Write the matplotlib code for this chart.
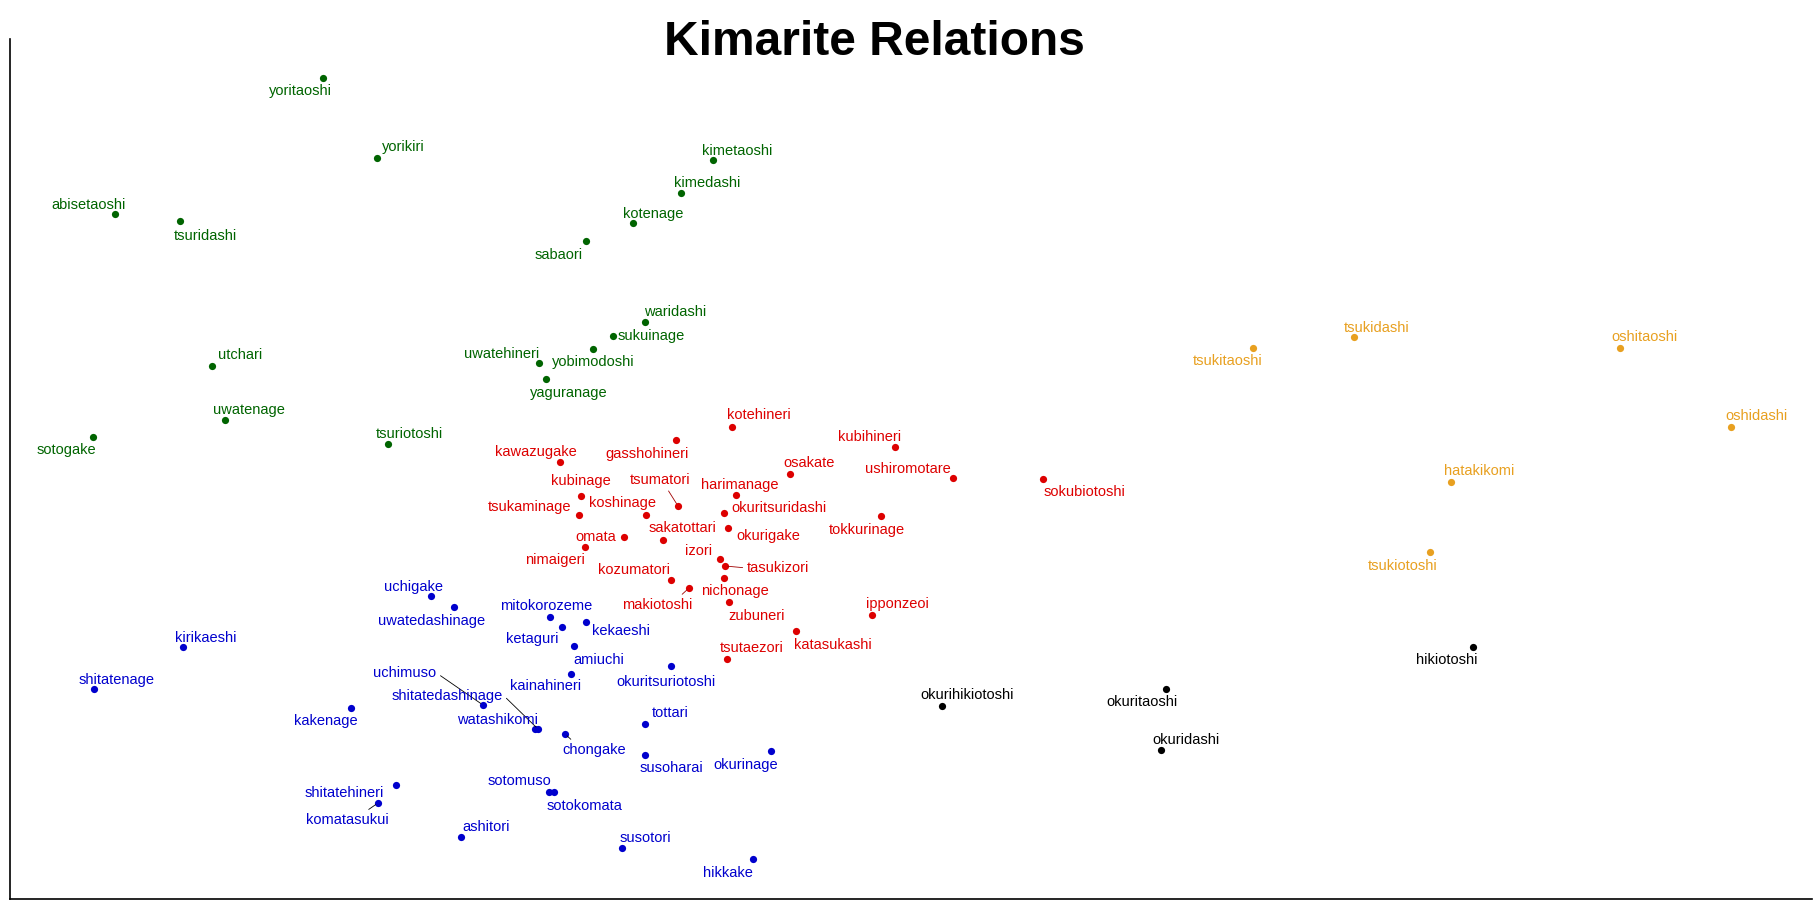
import matplotlib
matplotlib.use("Agg")
import matplotlib.pyplot as plt

plt.rcParams['font.family'] = ['Liberation Sans', 'DejaVu Sans']

# ---- data: MDS coordinates of kimarite, by cluster ----
green_names = ["yoritaoshi", "yorikiri", "abisetaoshi", "tsuridashi", "sabaori", "kimetaoshi",
               "kimedashi", "kotenage", "waridashi", "sukuinage", "yobimodoshi", "uwatehineri",
               "yaguranage", "utchari", "uwatenage", "sotogake", "tsuriotoshi"]
green_d1 = [-5.77, -5.23, -7.85, -7.20, -3.14, -1.87, -2.19, -2.67, -2.55, -2.87, -3.07, -3.61,
            -3.54, -6.88, -6.75, -8.07, -5.12]
green_d2 = [4.22, 3.42, 2.86, 2.79, 2.59, 3.40, 3.07, 2.77, 1.78, 1.64, 1.51, 1.37,
            1.21, 1.34, 0.80, 0.63, 0.56]

red_names = ["kotehineri", "gasshohineri", "kawazugake", "kubinage", "tsumatori", "koshinage",
             "tsukaminage", "harimanage", "osakate", "kubihineri", "ushiromotare", "okuritsuridashi",
             "okurigake", "tokkurinage", "sakatottari", "omata", "nimaigeri", "izori", "tasukizori",
             "kozumatori", "nichonage", "zubuneri", "makiotoshi", "ipponzeoi", "katasukashi",
             "tsutaezori", "sokubiotoshi"]
red_d1 = [-1.68, -2.24, -3.40, -3.19, -2.22, -2.54, -3.21, -1.64, -1.10, -0.05, 0.53, -1.76,
          -1.72, -0.19, -2.37, -2.76, -3.15, -1.80, -1.75, -2.29, -1.76, -1.71, -2.11, -0.28,
          -1.04, -1.73, 1.43]
red_d2 = [0.73, 0.60, 0.38, 0.04, -0.06, -0.15, -0.15, 0.05, 0.26, 0.53, 0.22, -0.13,
          -0.28, -0.16, -0.40, -0.37, -0.47, -0.59, -0.66, -0.80, -0.78, -1.02, -0.88, -1.15,
          -1.31, -1.59, 0.21]

blue_names = ["uchigake", "uwatedashinage", "mitokorozeme", "ketaguri", "kekaeshi", "amiuchi",
              "kainahineri", "okuritsuriotoshi", "kirikaeshi", "shitatenage", "kakenage", "uchimuso",
              "shitatedashinage", "watashikomi", "chongake", "tottari", "susoharai", "okurinage",
              "sotomuso", "sotokomata", "ashitori", "susotori", "hikkake", "shitatehineri",
              "komatasukui"]
blue_d1 = [-4.69, -4.46, -3.50, -3.38, -3.14, -3.26, -3.29, -2.29, -7.17, -8.06, -5.49, -4.17,
           -3.62, -3.65, -3.35, -2.55, -2.55, -1.29, -3.51, -3.46, -4.39, -2.78, -1.47, -5.04,
           -5.22]
blue_d2 = [-0.96, -1.07, -1.17, -1.27, -1.22, -1.46, -1.74, -1.66, -1.47, -1.89, -2.08, -2.05,
           -2.29, -2.29, -2.34, -2.24, -2.55, -2.51, -2.92, -2.92, -3.37, -3.48, -3.59, -2.85,
           -3.03]

orange_names = ["tsukitaoshi", "tsukidashi", "oshitaoshi", "oshidashi", "hatakikomi", "tsukiotoshi"]
orange_d1 = [3.53, 4.54, 7.20, 8.31, 5.51, 5.30]
orange_d2 = [1.52, 1.63, 1.52, 0.73, 0.18, -0.52]

black_names = ["hikiotoshi", "okurihikiotoshi", "okuritaoshi", "okuridashi"]
black_d1 = [5.73, 0.42, 2.66, 2.61]
black_d2 = [-1.47, -2.06, -1.89, -2.50]

# ---- layout: label offsets (pixels) and leader lines ----
label_offset = {
    "yoritaoshi": (-23, -13), "yorikiri": (26, 11), "abisetaoshi": (-26, 9), "tsuridashi": (25, -15),
    "sabaori": (-27, -14), "kimetaoshi": (24, 9), "kimedashi": (26, 10), "kotenage": (20, 9),
    "waridashi": (30, 10), "sukuinage": (38, 0), "yobimodoshi": (0, -13), "uwatehineri": (-37, 9),
    "yaguranage": (23, -14), "utchari": (28, 11), "uwatenage": (24, 10), "sotogake": (-27, -13),
    "tsuriotoshi": (21, 10),
    "kotehineri": (27, 12), "gasshohineri": (-29, -14), "kawazugake": (-24, 10), "kubinage": (0, 15),
    "tsumatori": (-18, 26), "koshinage": (-24, 12), "tsukaminage": (-49, 8), "harimanage": (4, 10),
    "osakate": (19, 11), "kubihineri": (-25, 10), "ushiromotare": (-45, 9), "okuritsuridashi": (55, 5),
    "okurigake": (40, -8), "tokkurinage": (-14, -14), "sakatottari": (19, 12), "omata": (-28, 0),
    "nimaigeri": (-30, -13), "izori": (-21, 8), "tasukizori": (53, -2), "kozumatori": (-37, 10),
    "nichonage": (11, -13), "zubuneri": (28, -14), "makiotoshi": (-32, -17), "ipponzeoi": (25, 11),
    "katasukashi": (37, -14), "tsutaezori": (25, 11), "sokubiotoshi": (42, -13),
    "uchigake": (-18, 9), "uwatedashinage": (-22, -14), "mitokorozeme": (-4, 11), "ketaguri": (-30, -12),
    "kekaeshi": (35, -9), "amiuchi": (25, -14), "kainahineri": (-25, -12), "okuritsuriotoshi": (-5, -16),
    "kirikaeshi": (23, 9), "shitatenage": (23, 9), "kakenage": (-25, -13), "uchimuso": (-78, 32),
    "shitatedashinage": (-91, 33), "watashikomi": (-37, 9), "chongake": (29, -16), "tottari": (25, 11),
    "susoharai": (26, -13), "okurinage": (-25, -14), "sotomuso": (-30, 11), "sotokomata": (30, -14),
    "ashitori": (25, 10), "susotori": (23, 10), "hikkake": (-25, -14), "shitatehineri": (-52, -8),
    "komatasukui": (-31, -17),
    "tsukitaoshi": (-25, -13), "tsukidashi": (23, 9), "oshitaoshi": (25, 11), "oshidashi": (26, 11),
    "hatakikomi": (28, 11), "tsukiotoshi": (-27, -14),
    "hikiotoshi": (-26, -13), "okurihikiotoshi": (25, 11), "okuritaoshi": (-24, -13), "okuridashi": (25, 10),
}
# leader line start point, relative to the label box
leaders = {"tsumatori": (0.6, 0.0), "tasukizori": (0.0, 0.5), "makiotoshi": (0.8, 1.0),
           "uchimuso": (1.0, 0.5), "shitatedashinage": (1.0, 0.6), "chongake": (0.2, 1.0),
           "komatasukui": (0.7, 1.0)}

groups = [
    (green_names, green_d1, green_d2, "#006400", "#006400"),
    (red_names, red_d1, red_d2, "#DD0000", "#A00000"),
    (blue_names, blue_d1, blue_d2, "#0000CD", "#000000"),
    (orange_names, orange_d1, orange_d2, "#E8A020", "#E8A020"),
    (black_names, black_d1, black_d2, "#000000", "#000000"),
]

W, H = 1820, 911
fig = plt.figure(figsize=(W / 100, H / 100), dpi=100)
ax = fig.add_axes([10 / W, 12 / H, (1812 - 10) / W, (899 - 39) / H])
ax.set_xlim(-8.90, 9.12)
ax.set_ylim(-3.99, 4.61)

for names, d1, d2, col, lcol in groups:
    ax.scatter(d1, d2, s=27, color=col, zorder=3, linewidths=0)
    for n, x, y in zip(names, d1, d2):
        dx, dy = label_offset[n]
        kw = {}
        if n in leaders:
            kw["arrowprops"] = dict(arrowstyle="-", color=lcol, lw=0.6, shrinkA=1, shrinkB=2,
                                    relpos=leaders[n])
        ax.annotate(n, (x, y), xytext=(dx, dy), textcoords="offset pixels",
                    ha="center", va="center", fontsize=10.5, color=col, **kw)

for s in ["top", "right"]:
    ax.spines[s].set_visible(False)
for s in ["left", "bottom"]:
    ax.spines[s].set_linewidth(1.2)
ax.set_xticks([])
ax.set_yticks([])

fig.text(874 / W, 1 - 55 / H, "Kimarite Relations", ha="center", va="baseline",
         fontsize=34.5, fontweight="bold")

fig.savefig("out.png", dpi=100)
